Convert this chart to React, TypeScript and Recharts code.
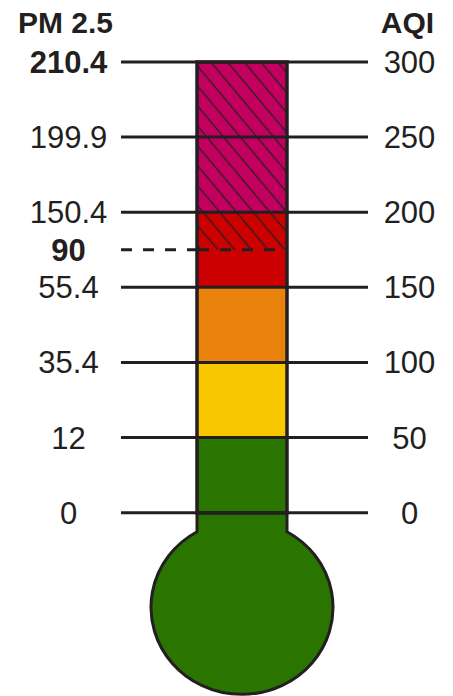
import { ComposedChart, Bar, Line, XAxis, YAxis, ReferenceArea, ReferenceLine } from 'recharts';

// AQI scale on the right, PM 2.5 breakpoints on the left
const aqiTicks = [0, 50, 100, 150, 200, 250, 300];
const pmTickPositions = [0, 50, 100, 150, 175, 200, 250, 300];
const pmTickLabels = ['0', '12', '35.4', '55.4', '90', '150.4', '199.9', '210.4'];
const boldPmTicks = [175, 300];
const dashedPmTicks = [175];

const bandKeys = ['good', 'moderate', 'sensitive', 'unhealthy', 'veryUnhealthy'];
const bandSizes = [50, 50, 50, 50, 100];
const bandColors = ['#2a7500', '#f8c700', '#e8820a', '#cc0000', '#c3005f'];

// hatched part of the column (AQI range)
const hatchRange = [175, 300];
// depth of the bulb centre below AQI 0
const bulbDepth = -63;

const INK = '#231f20';
const FONT = '"Liberation Sans", Arial, sans-serif';

const row: Record<string, number | string> = { name: 'PM 2.5', neck: bulbDepth, top: 300 };
bandKeys.forEach((k, i) => {
  row[k] = bandSizes[i];
});
const data = [row];

const Bulb = (props: any) => {
  const { x, y, width, height } = props;
  const top = Math.min(y, y + height);
  const h = Math.abs(height);
  const cy = top + h;
  const rx = 91;
  const ry = 87;
  const half = width / 2;
  const dy = ry * Math.sqrt(1 - (half * half) / (rx * rx));
  const d = `M${x},${top} L${x},${cy - dy} A${rx},${ry} 0 1 0 ${x + width},${cy - dy} L${x + width},${top} Z`;
  return <path d={d} fill={bandColors[0]} stroke={INK} strokeWidth={3} />;
};

const PmTick = (props: any) => {
  const { x, y, payload } = props;
  const v = payload.value;
  const idx = pmTickPositions.indexOf(v);
  const dashed = dashedPmTicks.includes(v);
  return (
    <g>
      <line
        x1={x}
        x2={x + 77}
        y1={y}
        y2={y}
        stroke={INK}
        strokeWidth={3}
        strokeDasharray={dashed ? '11 11' : undefined}
      />
      <text
        x={x - 52.5}
        y={y}
        dy={11}
        textAnchor="middle"
        fontFamily={FONT}
        fontSize={31}
        fontWeight={boldPmTicks.includes(v) ? 700 : 400}
        fill={INK}
      >
        {pmTickLabels[idx]}
      </text>
    </g>
  );
};

const AqiTick = (props: any) => {
  const { x, y, payload } = props;
  return (
    <g>
      <line x1={x - 82} x2={x} y1={y} y2={y} stroke={INK} strokeWidth={3} />
      <text
        x={x + 41.5}
        y={y}
        dy={11}
        textAnchor="middle"
        fontFamily={FONT}
        fontSize={31}
        fill={INK}
      >
        {payload.value}
      </text>
    </g>
  );
};

const header = (text: string, dx: number, anchor: string) => (props: any) => {
  const vb = props.viewBox || { x: 0, y: 62 };
  return (
    <text
      x={vb.x + dx}
      y={vb.y - 29}
      textAnchor={anchor}
      fontFamily={FONT}
      fontSize={30}
      fontWeight={700}
      fill={INK}
    >
      {text}
    </text>
  );
};

export default function App() {
  return (
    <div style={{ position: 'absolute', left: 0, top: 0, width: 453, height: 696, background: '#fff' }}>
      <ComposedChart
        width={453}
        height={696}
        data={data}
        margin={{ top: 62, right: 0, bottom: 0, left: 0 }}
        stackOffset="sign"
        barCategoryGap={0}
        barGap={0}
      >
        <defs>
          <pattern
            id="hatch"
            patternUnits="userSpaceOnUse"
            width={12.8}
            height={12.8}
            patternTransform="rotate(-40)"
          >
            <line x1={6.4} y1={0} x2={6.4} y2={12.8} stroke={INK} strokeWidth={1.3} />
          </pattern>
        </defs>
        <XAxis dataKey="name" hide />
        <YAxis
          yAxisId="pm"
          orientation="left"
          width={197}
          domain={[-122, 300]}
          ticks={pmTickPositions}
          interval={0}
          axisLine={false}
          tickLine={false}
          tickSize={76}
          tickMargin={0}
          tick={(p: any) => <PmTick {...p} />}
          label={{ content: header('PM 2.5', 18, 'start') }}
        />
        <YAxis
          yAxisId="aqi"
          orientation="right"
          width={166}
          domain={[-122, 300]}
          ticks={aqiTicks}
          interval={0}
          axisLine={false}
          tickLine={false}
          tickSize={81}
          tickMargin={0}
          tick={(p: any) => <AqiTick {...p} />}
          label={{ content: header('AQI', 120.5, 'middle') }}
        />
        <Bar
          yAxisId="aqi"
          dataKey="neck"
          stackId="t"
          fill={bandColors[0]}
          shape={(p: any) => <Bulb {...p} />}
          isAnimationActive={false}
        />
        {bandKeys.map((k, i) => (
          <Bar
            key={k}
            yAxisId="aqi"
            dataKey={k}
            stackId="t"
            fill={bandColors[i]}
            isAnimationActive={false}
          />
        ))}
        {/* invisible series so the PM 2.5 axis has data and draws its ticks */}
        <Line
          yAxisId="pm"
          dataKey="top"
          stroke="none"
          dot={() => <g />}
          activeDot={false}
          legendType="none"
          isAnimationActive={false}
        />
        <ReferenceArea
          yAxisId="aqi"
          y1={hatchRange[0]}
          y2={hatchRange[1]}
          fill="url(#hatch)"
          fillOpacity={1}
          stroke="none"
          zIndex={450}
        />
        {aqiTicks.map((t) => (
          <ReferenceLine key={t} yAxisId="aqi" y={t} stroke={INK} strokeWidth={3} zIndex={460} />
        ))}
        {dashedPmTicks.map((t) => (
          <ReferenceLine
            key={'d' + t}
            yAxisId="aqi"
            y={t}
            stroke={INK}
            strokeWidth={3}
            strokeDasharray="11 11"
            strokeDashoffset={10}
            zIndex={460}
          />
        ))}
        <ReferenceArea
          yAxisId="aqi"
          y1={0}
          y2={300}
          fill="none"
          stroke={INK}
          strokeWidth={3.5}
          zIndex={470}
        />
      </ComposedChart>
    </div>
  );
}
